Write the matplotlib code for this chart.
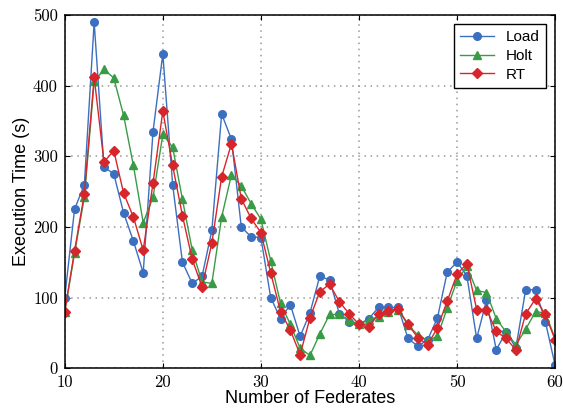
import numpy as np
import matplotlib.pyplot as plt

# Dados
federados = list(range(10, 61))

load = [100, 225, 260, 490, 285, 275, 220, 180, 135, 335,
        445, 260, 150, 120, 130, 195, 360, 324, 200, 186,
        185, 100, 70, 90, 45, 78, 130, 125, 77, 66,
        62, 70, 86, 86, 86, 42, 31, 40, 71, 136,
        150, 131, 42, 96, 26, 51, 29, 111, 111, 66, 4]

holt = [80, 163, 242, 406, 423, 411, 358, 287, 206, 242,
        331, 313, 239, 167, 122, 120, 214, 274, 258, 233,
        211, 152, 92, 62, 28, 18, 48, 76, 76, 68,
        62, 68, 73, 80, 83, 61, 47, 39, 45, 85,
        124, 144, 110, 107, 70, 51, 33, 55, 80, 78, 42]

rt = [80, 166, 247, 412, 292, 308, 248, 214, 167, 262,
      364, 287, 216, 154, 115, 177, 271, 318, 240, 212,
      192, 135, 80, 54, 19, 71, 108, 119, 94, 77,
      62, 58, 77, 81, 84, 62, 43, 33, 57, 95,
      133, 148, 83, 83, 52, 42, 26, 77, 98, 76, 40]

azul = '#3B6FC0'
verde = '#3A9B46'
vermelho = '#D7262B'

fig = plt.figure(figsize=(5.63, 4.09), dpi=100)
ax = fig.add_axes([0.115, 0.1, 0.871, 0.863])

ax.plot(federados, load, '-o', color=azul, lw=1, ms=5.5, label='Load')
ax.plot(federados, holt, '-^', color=verde, lw=1, ms=6, label='Holt')
ax.plot(federados, rt, '-D', color=vermelho, lw=1, ms=5.5, label='RT')

ax.set_xlim(10, 60)
ax.set_ylim(0, 500)
ax.set_xticks(np.arange(10, 61, 10))
ax.set_yticks(np.arange(0, 501, 100))
ax.grid(True, linestyle=(0, (1, 3)), color='#999999', lw=1.1)
ax.tick_params(direction='in', top=True, right=True, labelsize=12)
ax.tick_params(axis='x', pad=5)
ax.tick_params(axis='y', pad=5)
for lab in ax.get_xticklabels() + ax.get_yticklabels():
    lab.set_fontfamily('cmr10')
for s in ax.spines.values():
    s.set_linewidth(1.1)

ax.set_xlabel('Number of Federates', fontsize=13, fontfamily='Liberation Sans', labelpad=0)
ax.set_ylabel('Execution Time (s)', fontsize=13, fontfamily='Liberation Sans', labelpad=2)

leg = ax.legend(loc='upper right', fancybox=False, edgecolor='black', framealpha=1,
                prop={'family': 'Liberation Sans', 'size': 11}, handlelength=2.2,
                labelspacing=0.3, borderaxespad=0.6, borderpad=0.4)
leg.get_frame().set_linewidth(1)

fig.savefig('out.png', dpi=100)
